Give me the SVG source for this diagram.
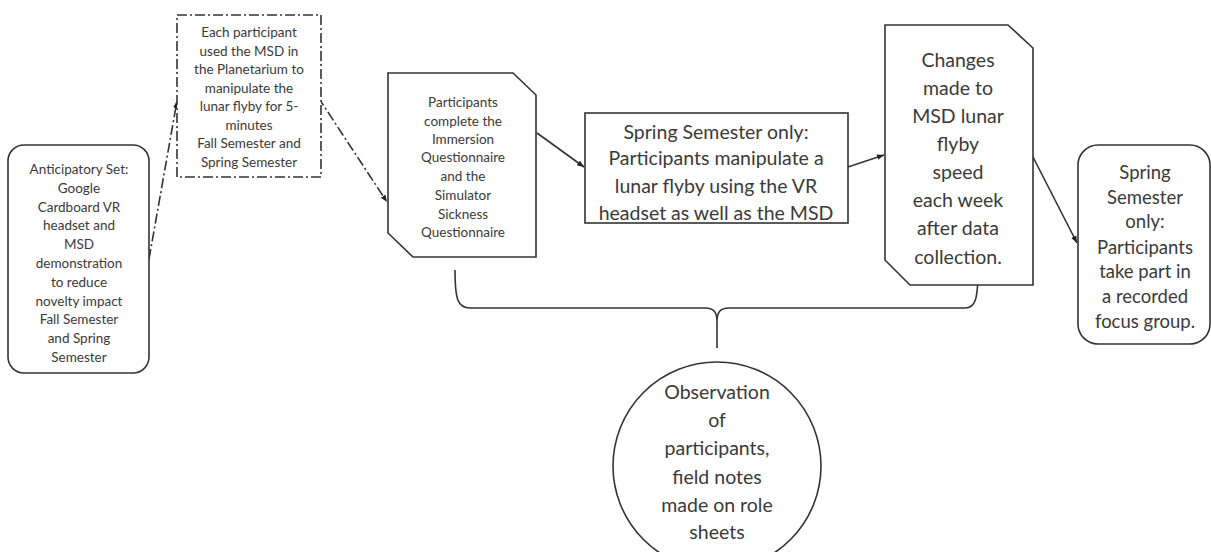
<svg xmlns="http://www.w3.org/2000/svg" width="1211" height="552" viewBox="0 0 1211 552">
<style>
.box{fill:#fff;stroke:#333;stroke-width:1.6}
.dd{fill:#fff;stroke:#333;stroke-width:1.6;stroke-dasharray:10,3,2,3}
.t{font-family:Lato,"Liberation Sans",sans-serif;fill:#3a3a3a;text-anchor:middle}
.s{font-size:13.5px}
.m{font-size:18.5px}
.l{font-size:19.5px}
.c{fill:none;stroke:#333;stroke-width:1.6}
.cd{fill:none;stroke:#333;stroke-width:1.6;stroke-dasharray:10,3,2,3}
</style>
<defs>
<marker id="ah" viewBox="0 0 10 10" refX="10" refY="5" markerWidth="7" markerHeight="7" orient="auto" markerUnits="userSpaceOnUse">
<path d="M0,1 L10,5 L0,9 Z" fill="#222"/>
</marker>
</defs>
<rect width="1211" height="552" fill="#fff"/>
<g id="connectors">
<path class="cd" d="M149,259 L177,101" marker-end="url(#ah)"/>
<path class="cd" d="M318,97 L387,202" marker-end="url(#ah)"/>
<path class="c" d="M537,133 L584,167" marker-end="url(#ah)"/>
<path class="c" d="M848,167 L884,155" marker-end="url(#ah)"/>
<path class="c" d="M1033,157 L1077,243" marker-end="url(#ah)"/>
<path class="c" d="M455,270 C455,300 458,308 470,308 L705,308 C714,308 717,312 717,322 L717,348 M717,322 C717,312 720,308 729,308 L965,308 C975,308 978,300 978,270"/>
</g>
<g id="n1">
<rect class="box" x="8" y="145" width="141" height="228" rx="16"/>
<text class="t s" x="79" y="174">Anticipatory Set:</text>
<text class="t s" x="79" y="193">Google</text>
<text class="t s" x="79" y="212">Cardboard VR</text>
<text class="t s" x="79" y="230">headset and</text>
<text class="t s" x="79" y="249">MSD</text>
<text class="t s" x="79" y="268">demonstration</text>
<text class="t s" x="79" y="287">to reduce</text>
<text class="t s" x="79" y="306">novelty impact</text>
<text class="t s" x="79" y="324">Fall Semester</text>
<text class="t s" x="79" y="343">and Spring</text>
<text class="t s" x="79" y="362">Semester</text>
</g>
<g id="n2">
<rect class="dd" x="177" y="15" width="144" height="162"/>
<text class="t s" x="249" y="37">Each participant</text>
<text class="t s" x="249" y="56">used the MSD in</text>
<text class="t s" x="249" y="74">the Planetarium to</text>
<text class="t s" x="249" y="93">manipulate the</text>
<text class="t s" x="249" y="111">lunar flyby for 5-</text>
<text class="t s" x="249" y="130">minutes</text>
<text class="t s" x="249" y="148">Fall Semester and</text>
<text class="t s" x="249" y="167">Spring Semester</text>
</g>
<g id="n3">
<path class="box" d="M388,73 L513,73 L536,95 L536,257 L413,257 L388,233 Z"/>
<text class="t s" x="463" y="107">Participants</text>
<text class="t s" x="463" y="126">complete the</text>
<text class="t s" x="463" y="144">Immersion</text>
<text class="t s" x="463" y="162">Questionnaire</text>
<text class="t s" x="463" y="181">and the</text>
<text class="t s" x="463" y="200">Simulator</text>
<text class="t s" x="463" y="219">Sickness</text>
<text class="t s" x="463" y="237">Questionnaire</text>
</g>
<g id="n4">
<rect class="box" x="585" y="113" width="263" height="110"/>
<text class="t l" x="716" y="139">Spring Semester only:</text>
<text class="t l" x="716" y="165">Participants manipulate a</text>
<text class="t l" x="716" y="193">lunar flyby using the VR</text>
<text class="t l" x="716" y="220">headset as well as the MSD</text>
</g>
<g id="n5">
<path class="box" d="M885,25 L1008,25 L1033,48 L1033,285 L910,285 L885,260 Z"/>
<text class="t l" x="958" y="67">Changes</text>
<text class="t l" x="958" y="95">made to</text>
<text class="t l" x="958" y="123">MSD lunar</text>
<text class="t l" x="958" y="151">flyby</text>
<text class="t l" x="958" y="179">speed</text>
<text class="t l" x="958" y="207">each week</text>
<text class="t l" x="958" y="235">after data</text>
<text class="t l" x="958" y="264">collection.</text>
</g>
<g id="n6">
<rect class="box" x="1078" y="145" width="132" height="199" rx="20"/>
<text class="t m" x="1145" y="179">Spring</text>
<text class="t m" x="1145" y="204">Semester</text>
<text class="t m" x="1145" y="228">only:</text>
<text class="t m" x="1145" y="254">Participants</text>
<text class="t m" x="1145" y="278">take part in</text>
<text class="t m" x="1145" y="303">a recorded</text>
<text class="t m" x="1145" y="328">focus group.</text>
</g>
<g id="n7">
<ellipse class="box" cx="717" cy="466" rx="104" ry="104"/>
<text class="t l" x="717" y="399">Observation</text>
<text class="t l" x="717" y="427">of</text>
<text class="t l" x="717" y="455">participants,</text>
<text class="t l" x="717" y="484">field notes</text>
<text class="t l" x="717" y="512">made on role</text>
<text class="t l" x="717" y="539">sheets</text>
</g>
</svg>
